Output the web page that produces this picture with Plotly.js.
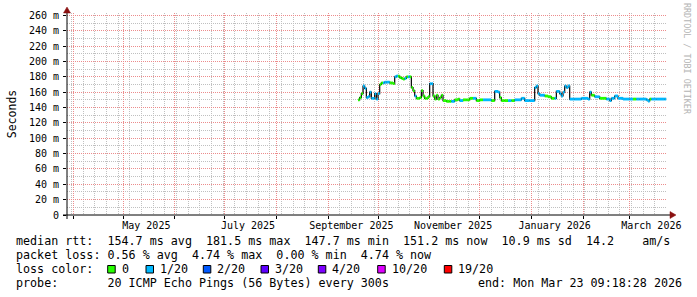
<!DOCTYPE html>
<html><head><meta charset="utf-8">
<script src="https://cdn.plot.ly/plotly-3.0.1.min.js"></script>
<style>html,body{margin:0;padding:0;background:#fff;}</style>
</head><body><div id="chart" style="width:697px;height:297px;"></div>
<script>
// ---- data ----
const dates = ['2025-09-19','2025-09-20','2025-09-21','2025-09-22','2025-09-23','2025-09-24','2025-09-25','2025-09-26','2025-09-27','2025-09-28','2025-09-29','2025-09-30',
'2025-10-01','2025-10-02','2025-10-03','2025-10-04','2025-10-05','2025-10-06','2025-10-07','2025-10-08','2025-10-09','2025-10-10','2025-10-11','2025-10-12','2025-10-13','2025-10-14','2025-10-15','2025-10-16','2025-10-17','2025-10-18','2025-10-19','2025-10-20','2025-10-21','2025-10-22','2025-10-23','2025-10-24','2025-10-25','2025-10-26','2025-10-27','2025-10-28','2025-10-29','2025-10-30','2025-10-31',
'2025-11-01','2025-11-02','2025-11-03','2025-11-04','2025-11-05','2025-11-06','2025-11-07','2025-11-08','2025-11-09','2025-11-11','2025-11-13','2025-11-14','2025-11-16','2025-11-18','2025-11-19','2025-11-21','2025-11-23','2025-11-25','2025-11-27','2025-11-29',
'2025-12-01','2025-12-03','2025-12-06','2025-12-08','2025-12-10','2025-12-12','2025-12-13','2025-12-14','2025-12-16','2025-12-18','2025-12-20','2025-12-22','2025-12-24','2025-12-26','2025-12-28','2025-12-31',
'2026-01-03','2026-01-04','2026-01-05','2026-01-06','2026-01-08','2026-01-09','2026-01-11','2026-01-13','2026-01-15','2026-01-16','2026-01-18','2026-01-19','2026-01-20','2026-01-21','2026-01-22','2026-01-23','2026-01-24','2026-01-27','2026-01-31',
'2026-02-04','2026-02-05','2026-02-06','2026-02-08','2026-02-11','2026-02-15','2026-02-17','2026-02-18','2026-02-20','2026-02-22','2026-02-25',
'2026-03-01','2026-03-03','2026-03-05','2026-03-07','2026-03-11','2026-03-12','2026-03-13','2026-03-14','2026-03-17','2026-03-22'];
const medianMs = [150,153,158,168,165,153,154,160,152,152,158,151,
158,170,172,172,173,173,173,172,172,171,180,181,181,179,178,177,178,180,180,180,166,162,155,152,152,153,162,155,152,152,154,
171,171,155,151,156,151,153,156,149,148,148,148,150,151,149,150,150,152,152,149,
150,150,150,149,161,160,153,149,149,149,149,150,150,152,149,149,
166,168,158,156,156,155,154,152,152,161,158,155,160,168,166,168,151,151,152,
151,160,156,154,152,151,149,152,155,152,151,
151,151,151,151,150,148.5,151,151,151,151];
const lossLevel = [0,0,0,1,1,1,1,1,1,1,1,1,
1,0,0,1,1,1,1,0,0,0,1,1,0,0,0,0,1,0,1,0,0,0,1,0,0,0,0,0,0,0,0,
1,1,0,0,0,0,0,0,0,0,0,1,0,0,1,0,0,0,1,0,
0,1,1,0,1,1,0,0,0,1,0,1,1,1,1,1,
1,1,1,1,1,0,0,0,1,1,1,1,1,1,1,1,1,1,1,
1,1,0,1,0,1,1,1,1,1,1,
1,0,1,1,1,1,0,1,1,1];
const dataEnd = '2026-03-22 22:00';
const lossLabels = ['0','1/20','2/20','3/20','4/20','10/20','19/20'];
const lossColors = ['#26ff00','#00b8ff','#0059ff','#5e00ff','#7e00ff','#dd00ff','#ff0000'];
const xStart = '2025-03-28 09:18:28', xEnd = '2026-03-23 09:18:28';
const monthLabelDates = ['2025-05-15','2025-07-15','2025-09-15','2025-11-15','2026-01-15','2026-03-14'];
const monthLabels = ['May 2025','July 2025','September 2025','November 2025','January 2026','March 2026'];
const yTickVals = [0,20,40,60,80,100,120,140,160,180,200,220,240,260];
const yTickText = yTickVals.map(v => v === 0 ? '0' : v + ' m');
const rttStats = ['154.7','181.5','147.7','151.2','10.9','14.2'];
const lossStats = ['0.56','4.74','0.00','4.74'];
const probeText = '20 ICMP Echo Pings (56 Bytes) every 300s';
const endText = 'end: Mon Mar 23 09:18:28 2026';

// ---- geometry helpers (pixels -> paper) ----
const W = 697, H = 297, ML = 67, MR = 30, MT = 13, MB = 82;
const PW = W - ML - MR, PH = H - MT - MB;
const px = x => (x - ML) / PW;
const py = y => (H - MB - y) / PH;
const MONO = 'DejaVu Sans Mono';

// ---- traces ----
const xs = dates.concat([dataEnd]);
const ys = medianMs.concat([medianMs[medianMs.length - 1]]);
const traces = [{
  type: 'scatter', mode: 'lines', x: xs, y: ys, xaxis: 'x', yaxis: 'y',
  line: {color: '#000000', width: 1.2, shape: 'hv'}, hoverinfo: 'skip', showlegend: false
}];
lossColors.forEach((c, lv) => {
  const sx = [], sy = [];
  dates.forEach((d, i) => {
    if (lossLevel[i] === lv) { sx.push(d, xs[i + 1], null); sy.push(medianMs[i], medianMs[i], null); }
  });
  if (sx.length) traces.push({type: 'scatter', mode: 'lines', x: sx, y: sy, xaxis: 'x2', yaxis: 'y',
    line: {color: c, width: 2.8}, connectgaps: false, hoverinfo: 'skip', showlegend: false});
});

// ---- annotations (legend text) ----
const ann = [];
const FS = 11.7;
const txt = (x, y, t, extra) => ann.push(Object.assign({xref: 'paper', yref: 'paper', x: px(x), y: py(y), text: t,
  showarrow: false, xanchor: 'left', yanchor: 'middle', borderpad: 0,
  font: {family: MONO, size: FS, color: '#000'}}, extra || {}));
const sp = s => s.replace(/ /g, '\u00a0');
const X0 = 14.5;
txt(X0, 241, sp('median rtt:  ' + rttStats[0] + ' ms avg  ' + rttStats[1] + ' ms max  ' + rttStats[2] + ' ms min  ' + rttStats[3] + ' ms now  ' + rttStats[4] + ' ms sd  ' + rttStats[5] + '    am/s'));
txt(X0, 255, sp('packet loss: ' + lossStats[0] + ' % avg  ' + lossStats[1] + ' % max  ' + lossStats[2] + ' % min  ' + lossStats[3] + ' % now'));
txt(X0, 269, sp('loss color:'));
const boxX = [107.7, 146, 203.3, 261, 318.3, 377.7, 444.3];
const shapes = [];
lossLabels.forEach((l, i) => {
  txt(boxX[i] + 13, 269, l);
  shapes.push({type: 'rect', xref: 'paper', yref: 'paper', x0: px(boxX[i]), x1: px(boxX[i] + 7.5), y0: py(273), y1: py(265.5),
    fillcolor: lossColors[i], line: {color: '#000', width: 1}});
});
txt(X0, 283, sp('probe:       ' + probeText));
txt(476.5, 283, sp(endText));
ann.push({xref: 'paper', yref: 'paper', x: px(687), y: py(59), text: 'RRDTOOL / TOBI OETIKER', textangle: 90,
  showarrow: false, xanchor: 'center', yanchor: 'middle', font: {family: MONO, size: 8.4, color: '#b4b4b4'}});

// axis lines & arrows
const AR = '#8a1010';
shapes.push({type: 'line', xref: 'paper', yref: 'paper', x0: px(63), x1: px(671), y0: py(215), y1: py(215), line: {color: '#000', width: 1}});
shapes.push({type: 'line', xref: 'paper', yref: 'paper', x0: px(67), x1: px(67), y0: py(219), y1: py(11), line: {color: '#000', width: 1}});
shapes.push({type: 'path', xref: 'paper', yref: 'paper', fillcolor: AR, line: {color: AR, width: 0.5},
  path: `M ${px(670)} ${py(211.5)} L ${px(676)} ${py(215)} L ${px(670)} ${py(218.5)} Z`});
shapes.push({type: 'path', xref: 'paper', yref: 'paper', fillcolor: AR, line: {color: AR, width: 0.5},
  path: `M ${px(63.5)} ${py(13)} L ${px(67)} ${py(7)} L ${px(70.5)} ${py(13)} Z`});

const RED = '#ec8c8c', GREY = '#c0c0c0';
const layout = {
  width: W, height: H, margin: {l: ML, r: MR, t: MT, b: MB, pad: 0},
  paper_bgcolor: '#ffffff', plot_bgcolor: '#ffffff', showlegend: false,
  xaxis: {type: 'date', range: [xStart, xEnd], tickmode: 'array', tickvals: monthLabelDates, ticktext: monthLabels,
    ticks: '', showgrid: false, zeroline: false, showline: false, fixedrange: true, ticklabelstandoff: 3,
    tickfont: {family: MONO, size: 10, color: '#000'}},
  xaxis2: {type: 'date', overlaying: 'x', anchor: 'y', side: 'bottom', range: [xStart, xEnd], showticklabels: false,
    tick0: '2025-04-01', dtick: 'M1', ticks: 'outside', ticklen: 3, tickcolor: '#000', tickwidth: 1,
    showgrid: true, gridcolor: RED, griddash: '1px,1px', gridwidth: 1, zeroline: false, showline: false,
    minor: {tick0: '2025-03-31', dtick: 7 * 86400000, showgrid: true, gridcolor: GREY, griddash: '1px,1px', gridwidth: 1, ticks: ''}},
  yaxis: {range: [0, 263.1], tickmode: 'array', tickvals: yTickVals, ticktext: yTickText,
    ticks: 'outside', ticklen: 3, tickcolor: '#000', showgrid: true, gridcolor: RED, griddash: '1px,1px', gridwidth: 1,
    minor: {tickmode: 'linear', tick0: 0, dtick: 10, showgrid: true, gridcolor: GREY, griddash: '1px,1px', gridwidth: 1, ticks: ''},
    zeroline: false, showline: false, fixedrange: true, ticklabelstandoff: 2, tickfont: {family: MONO, size: 10, color: '#000'},
    title: {text: 'Seconds', font: {family: MONO, size: 11.5, color: '#000'}, standoff: 9}},
  annotations: ann, shapes: shapes
};
Plotly.newPlot('chart', traces, layout, {staticPlot: true, displayModeBar: false});
</script></body></html>
